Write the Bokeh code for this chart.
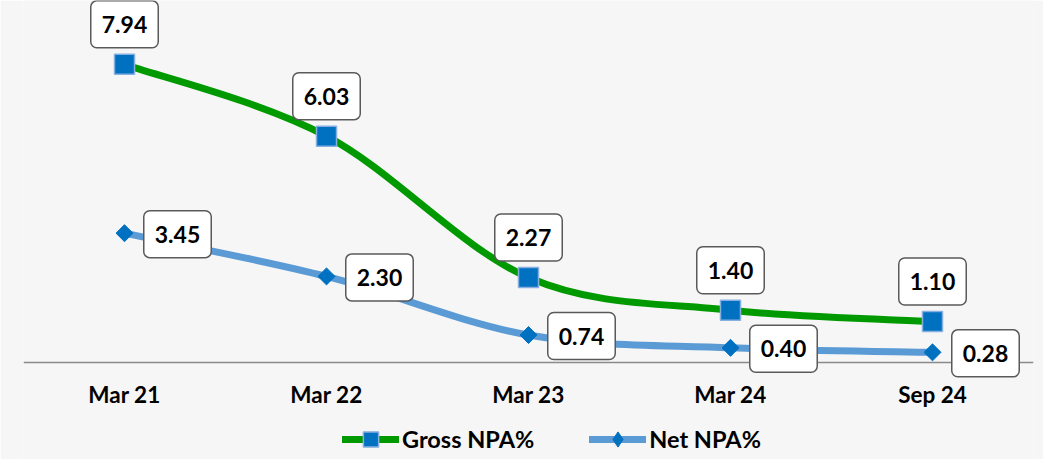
from bokeh.plotting import figure
from bokeh.models import ColumnDataSource, FixedTicker, Legend, LegendItem, Range1d, Label
from bokeh.embed import file_html
from bokeh.resources import INLINE
import math

# ---- data ----
categories = ["Mar 21", "Mar 22", "Mar 23", "Mar 24", "Sep 24"]
gross_npa = [7.94, 6.03, 2.27, 1.40, 1.10]
net_npa = [3.45, 2.30, 0.74, 0.40, 0.28]
series_names = ["Gross NPA%", "Net NPA%"]

BG = "#f6f6f6"
GREEN = "#009a00"
LBLUE = "#5b9bd5"
DBLUE = "#0070c0"

xs = list(range(len(categories)))
NAN = float("nan")


def smooth(xv, yv):
    """Catmull-Rom style smoothing turned into cubic Bezier segments."""
    n = len(xv)
    out = dict(x0=[], y0=[], x1=[], y1=[], cx0=[], cy0=[], cx1=[], cy1=[])
    for i in range(n - 1):
        a = i - 1 if i > 0 else i
        d = i + 2 if i + 2 < n else i + 1
        out["x0"].append(xv[i]); out["y0"].append(yv[i])
        out["x1"].append(xv[i + 1]); out["y1"].append(yv[i + 1])
        out["cx0"].append(xv[i] + (xv[i + 1] - xv[a]) / 6)
        out["cy0"].append(yv[i] + (yv[i + 1] - yv[a]) / 6)
        out["cx1"].append(xv[i + 1] - (xv[d] - xv[i]) / 6)
        out["cy1"].append(yv[i + 1] - (yv[d] - yv[i]) / 6)
    return out


p = figure(width=1043, height=459, output_backend="svg", toolbar_location=None,
           x_range=Range1d(-0.5, len(categories) - 0.5), y_range=Range1d(-2.57, 9.638),
           y_axis_location=None, min_border_left=23, min_border_right=10,
           min_border_top=0, min_border_bottom=0)
p.background_fill_color = BG
p.border_fill_color = BG
p.outline_line_color = None
p.xgrid.visible = False
p.ygrid.visible = False

ax = p.xaxis[0]
ax.fixed_location = 0
ax.ticker = FixedTicker(ticks=xs)
ax.major_label_overrides = {i: c for i, c in enumerate(categories)}
ax.major_tick_line_color = None
ax.minor_tick_line_color = None
ax.major_tick_out = 0
ax.major_tick_in = 0
ax.minor_tick_out = 0
ax.axis_line_color = "#8a8a8a"
ax.axis_line_width = 1.5
ax.major_label_text_font = "Lato"
ax.major_label_text_font_style = "bold"
ax.major_label_text_font_size = "22.5px"
ax.major_label_text_color = "#000000"
ax.major_label_standoff = 18

# lines
gs = ColumnDataSource(smooth(xs, gross_npa))
ns = ColumnDataSource(smooth(xs, net_npa))
p.bezier(x0="x0", y0="y0", x1="x1", y1="y1", cx0="cx0", cy0="cy0", cx1="cx1", cy1="cy1",
         source=ns, line_color=LBLUE, line_width=7, line_cap="round")
p.bezier(x0="x0", y0="y0", x1="x1", y1="y1", cx0="cx0", cy0="cy0", cx1="cx1", cy1="cy1",
         source=gs, line_color=GREEN, line_width=7, line_cap="round")

src = ColumnDataSource(dict(x=xs, g=gross_npa, n=net_npa))
g_sc = p.scatter("x", "g", source=src, marker="square", size=20, fill_color=DBLUE,
                 line_color="#86aee0", line_width=1.5)
n_sc = p.scatter("x", "n", source=src, marker="square", angle=math.pi / 4, size=12,
                 fill_color=DBLUE, line_color=DBLUE, line_width=1)

pad = dict(left=11, right=11, top=15, bottom=15)
common = dict(text_font="Lato", text_font_style="bold", text_font_size="23px",
              text_color="#000000", text_align="center", text_baseline="middle",
              background_fill_color="#ffffff", border_line_color="#5a5a5a",
              border_line_width=1.5, padding=pad, border_radius=6)
for xi, gv, nv in zip(xs, gross_npa, net_npa):
    p.add_layout(Label(x=xi, y=gv, text="%.2f" % gv, x_offset=0, y_offset=40, **common))
    p.add_layout(Label(x=xi, y=nv, text="%.2f" % nv, x_offset=53, y_offset=-1, **common))

# legend-only renderers (a single NaN point: nothing drawn in the plot)
lg_line = p.line(x=[NAN], y=[NAN], line_color=GREEN, line_width=7, line_cap="round")
lg_mark = p.scatter(x=[NAN], y=[NAN], marker="square", size=20, fill_color=DBLUE,
                    line_color="#86aee0", line_width=1.5)
ln_line = p.line(x=[NAN], y=[NAN], line_color=LBLUE, line_width=7, line_cap="round")
ln_mark = p.scatter(x=[NAN], y=[NAN], marker="diamond", size=16,
                    fill_color=DBLUE, line_color=DBLUE, line_width=1)

legend = Legend(items=[LegendItem(label=series_names[0], renderers=[lg_line, lg_mark]),
                       LegendItem(label=series_names[1], renderers=[ln_line, ln_mark])],
                orientation="horizontal", location=(319, 1),
                glyph_width=57, glyph_height=38, label_standoff=3, spacing=55,
                padding=0, margin=0, background_fill_alpha=0, border_line_alpha=0,
                label_text_font="Lato", label_text_font_style="bold",
                label_text_font_size="23.5px", label_text_color="#000000")
p.add_layout(legend, "center")

open("out.html", "w").write(file_html(p, INLINE))
